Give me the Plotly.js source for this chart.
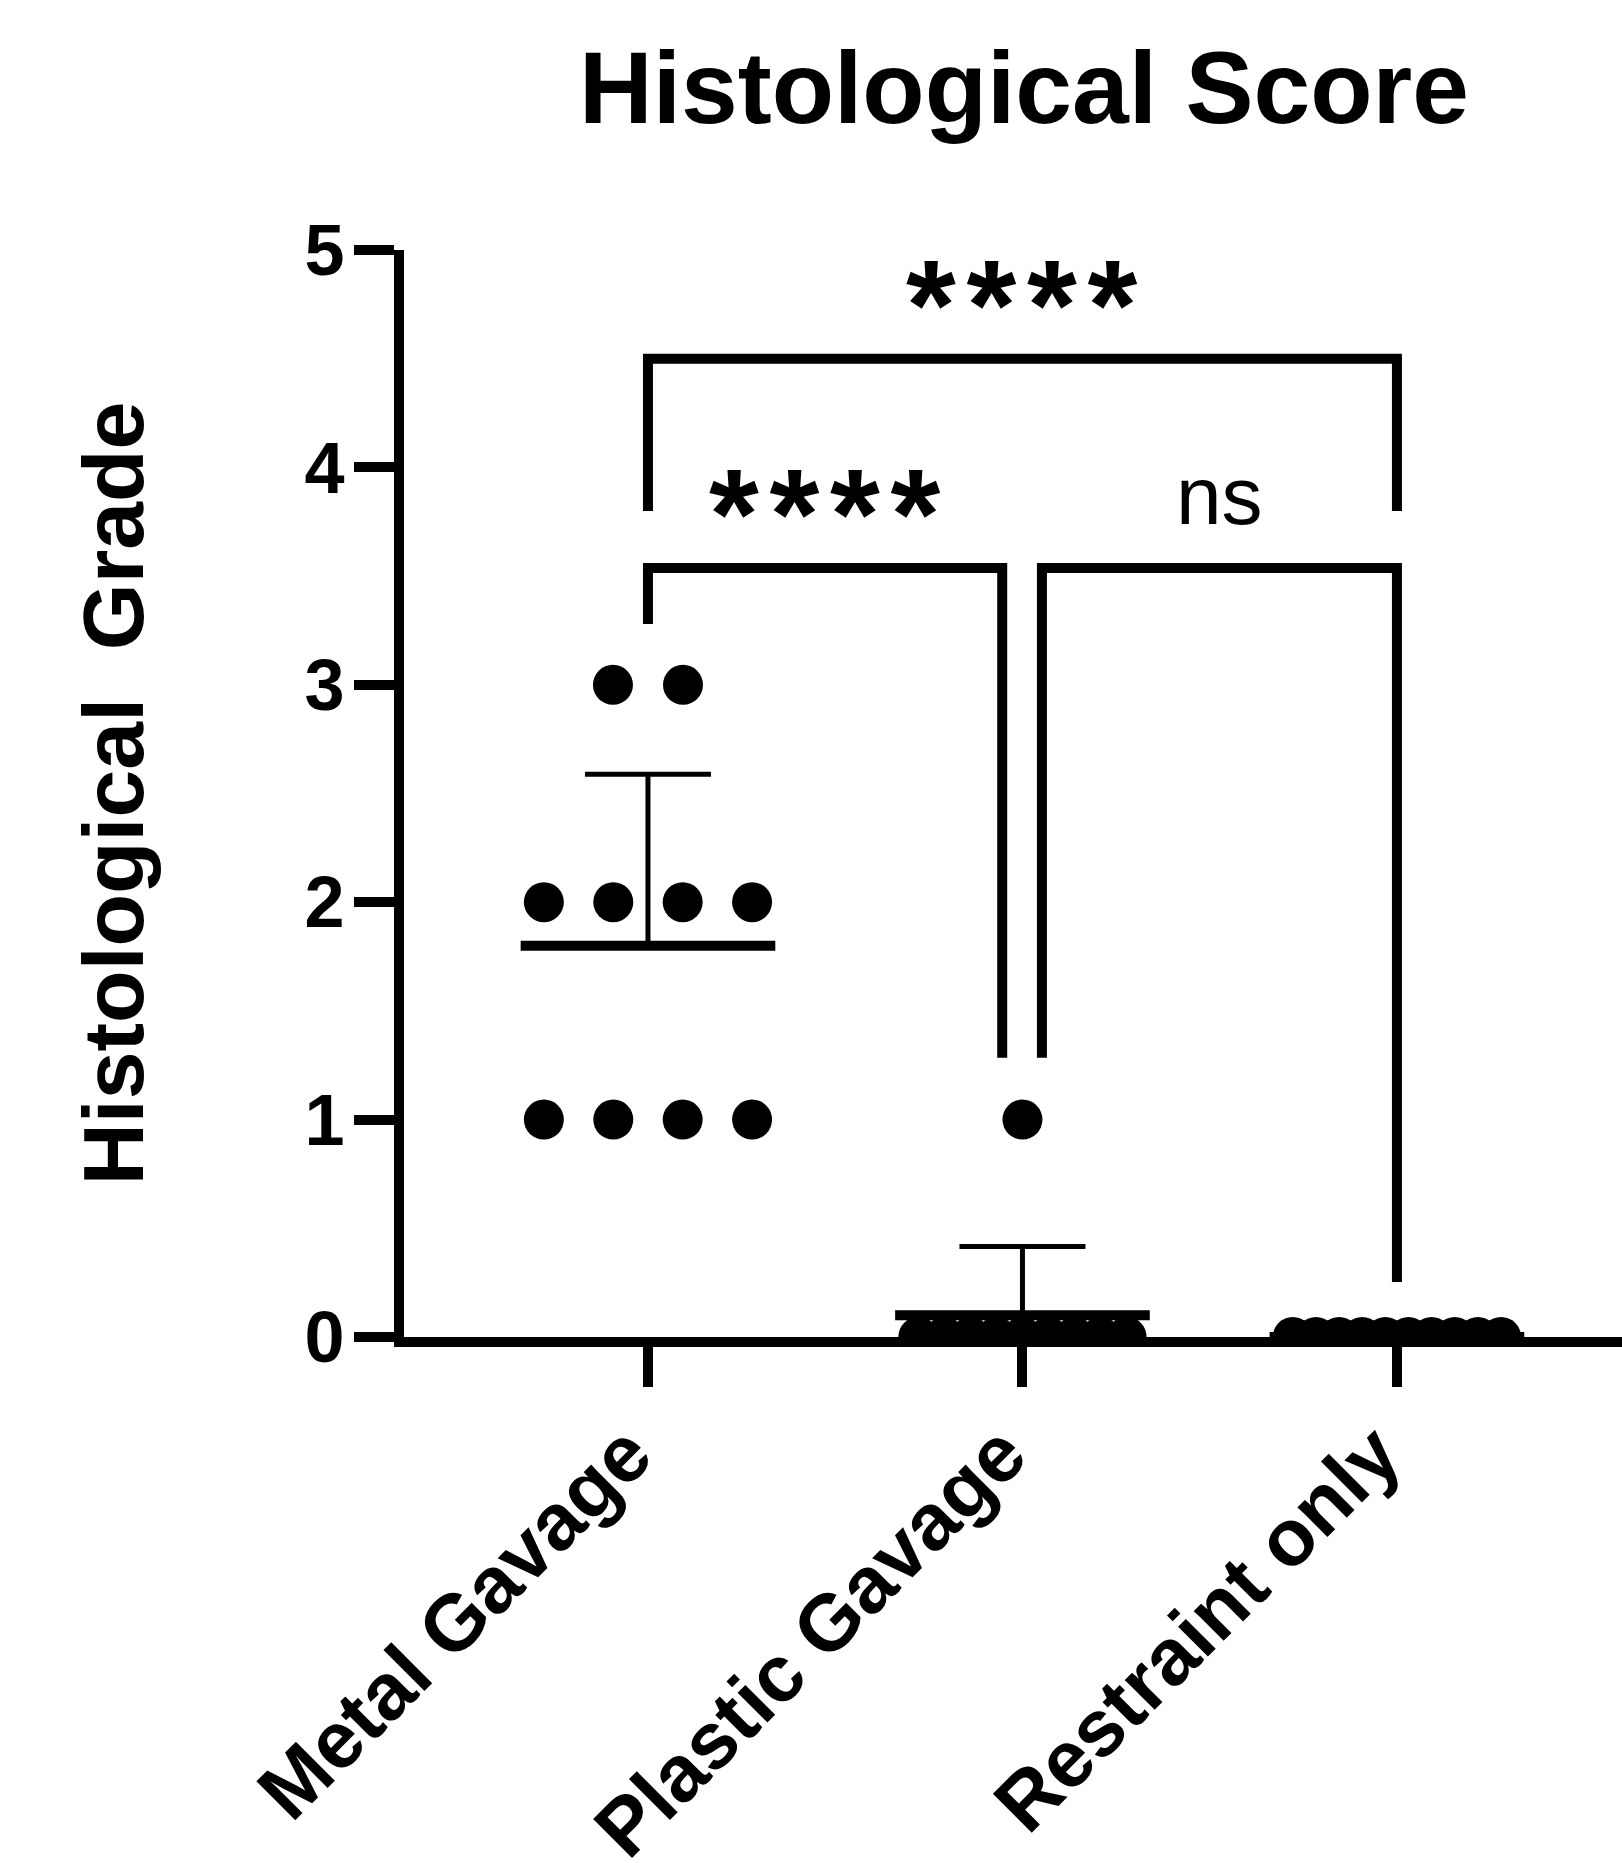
<!DOCTYPE html>
<html><head><meta charset="utf-8">
<script src="https://cdn.plot.ly/plotly-3.0.1.min.js"></script>
<style>html,body{margin:0;padding:0;background:#fff}</style>
</head><body><div id="chart" style="width:1622px;height:1863px"></div>
<script>
// ---- data ----
const categories = ['Metal Gavage', 'Plastic Gavage', 'Restraint only'];
const metalScores = [3, 3, 2, 2, 2, 2, 1, 1, 1, 1];
const plasticScores = [1, 0, 0, 0, 0, 0, 0, 0, 0, 0];
const restraintScores = [0, 0, 0, 0, 0, 0, 0, 0, 0, 0];
const yTickValues = [0, 1, 2, 3, 4, 5];
const comparisonLabels = ['****', '****', 'ns'];
const comparisonPairs = [[0, 2], [0, 1], [1, 2]];

// ---- style / layout config ----
const FONT = 'Liberation Sans, Arial, Helvetica, sans-serif';
const groups = [metalScores, plasticScores, restraintScores];
const dotStep = 0.187, maxSpan = 0.556, meanHalf = 0.34;

function spread(values) {
  const byVal = {};
  values.forEach(v => { (byVal[v] = byVal[v] || []).push(v); });
  const xs = [], ys = [];
  Object.keys(byVal).forEach(k => {
    const n = byVal[k].length;
    const s = n > 1 ? Math.min(dotStep, maxSpan / (n - 1)) : 0;
    for (let j = 0; j < n; j++) { xs.push((j - (n - 1) / 2) * s); ys.push(Number(k)); }
  });
  return {xs, ys};
}
function mean(a) { return a.reduce((p, c) => p + c, 0) / a.length; }
function sd(a) { const m = mean(a); return Math.sqrt(a.reduce((p, c) => p + (c - m) ** 2, 0) / (a.length - 1)); }

const traces = [];
groups.forEach((g, i) => {
  const s = spread(g);
  traces.push({type: 'scatter', mode: 'markers', x: s.xs.map(d => d + i), y: s.ys,
    marker: {size: 40, color: '#000'}, cliponaxis: true, hoverinfo: 'skip'});
});
groups.forEach((g, i) => {
  const m = mean(g);
  traces.push({type: 'scatter', mode: 'lines', x: [i - meanHalf, i + meanHalf], y: [m, m],
    line: {color: '#000', width: 10}, hoverinfo: 'skip'});
  const e = sd(g);
  if (e > 0) {
    traces.push({type: 'scatter', mode: 'markers', x: [i], y: [m],
      marker: {size: 1, opacity: 0},
      error_y: {type: 'data', symmetric: false, array: [e], arrayminus: [0], width: 63, thickness: 5, color: '#000'},
      hoverinfo: 'skip'});
  }
});

// bracket geometry: top y, left leg end, right leg end, x shifts, label y
const bracketGeom = [
  {top: 4.5, l: 3.80, r: 3.80, dl: 0, dr: 0, ly: 4.75},
  {top: 3.537, l: 3.28, r: 1.285, dl: 0, dr: -0.054, ly: 3.79},
  {top: 3.537, l: 1.285, r: 0.253, dl: 0.052, dr: 0, ly: 3.87}
];
const shapes = [], annotations = [];
comparisonPairs.forEach((p, k) => {
  const b = bracketGeom[k];
  const x0 = p[0] + b.dl, x1 = p[1] + b.dr;
  shapes.push({type: 'path', xref: 'x', yref: 'y',
    path: `M${x0},${b.l} L${x0},${b.top} L${x1},${b.top} L${x1},${b.r}`,
    line: {color: '#000', width: 10}});
  const isStar = comparisonLabels[k] !== 'ns';
  annotations.push({xref: 'x', yref: 'y', x: (x0 + x1) / 2, y: b.ly, showarrow: false,
    text: isStar ? comparisonLabels[k].split('').join('\u200A') : comparisonLabels[k],
    xanchor: 'center', yanchor: 'middle',
    font: {family: FONT, size: isStar ? 128 : 82, color: '#000', weight: isStar ? 'bold' : 'normal'}});
});

const layout = {
  width: 1622, height: 1863,
  margin: {l: 404, r: 0, t: 250, b: 526, pad: 0, autoexpand: false},
  paper_bgcolor: '#fff', plot_bgcolor: '#fff',
  showlegend: false,
  title: {text: 'Histological Score', font: {family: FONT, size: 102, color: '#000', weight: 'bold'},
    x: 1024 / 1622, xref: 'container', xanchor: 'center', y: 1 - 87 / 1863, yref: 'container', yanchor: 'middle',
    automargin: false},
  xaxis: {range: [-0.6515, 2.601], tickvals: [0, 1, 2], ticktext: categories, tickangle: -45,
    ticks: 'outside', ticklen: 40, tickwidth: 10, tickcolor: '#000', automargin: false,
    ticklabelshift: -20, ticklabelstandoff: -12,
    showline: true, linewidth: 10, linecolor: '#000', showgrid: false, zeroline: false,
    tickfont: {family: FONT, size: 80, color: '#000', weight: 'bold'}, fixedrange: true},
  yaxis: {range: [0, 5], tickvals: yTickValues, automargin: false,
    ticks: 'outside', ticklen: 40, tickwidth: 10, tickcolor: '#000', ticklabelstandoff: -5,
    showline: true, linewidth: 10, linecolor: '#000', showgrid: false, zeroline: false,
    tickfont: {family: FONT, size: 72, color: '#000', weight: 'bold'},
    title: {text: 'Histological\u00A0\u00A0Grade', standoff: 136,
      font: {family: FONT, size: 86, color: '#000', weight: 'bold'}}, fixedrange: true},
  shapes: shapes, annotations: annotations
};
Plotly.newPlot('chart', traces, layout, {staticPlot: true, displayModeBar: false});
</script></body></html>
